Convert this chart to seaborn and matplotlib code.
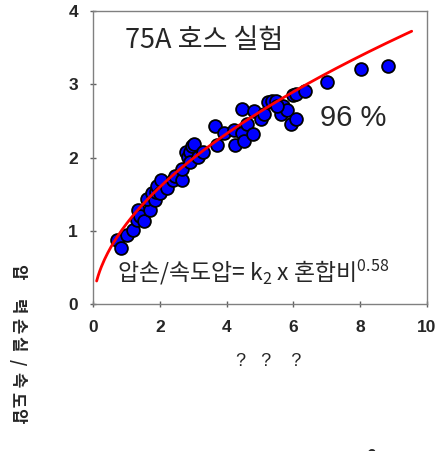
import numpy as np
import pandas as pd
import seaborn as sns
from matplotlib import pyplot as plt

# measured points (mixing ratio vs pressure loss / velocity pressure)
mix_ratio = [0.70, 0.82, 1.00, 1.18, 1.30, 1.33, 1.40, 1.53, 1.70, 1.60,
             1.75, 1.85, 1.88, 1.90, 2.02, 2.00, 2.20, 2.40, 2.45, 2.65,
             2.67, 2.77, 2.85, 2.90, 2.95, 3.03, 2.90, 3.15, 3.30, 3.65,
             3.70, 3.93, 4.23, 4.25, 4.45, 4.47, 4.53, 4.60, 4.80, 4.83,
             5.02, 5.12, 5.25, 5.35, 5.48, 5.62, 5.70, 5.80, 5.92, 6.07,
             6.00, 6.07, 6.35, 7.02, 8.02, 8.83, 5.50]
loss_ratio = [0.88, 0.77, 0.94, 1.01, 1.15, 1.28, 1.20, 1.14, 1.29, 1.44,
              1.52, 1.42, 1.53, 1.61, 1.70, 1.51, 1.59, 1.70, 1.75, 1.70,
              1.85, 2.07, 2.01, 2.07, 2.15, 2.18, 1.94, 2.01, 2.08, 2.43,
              2.17, 2.33, 2.38, 2.17, 2.66, 2.33, 2.22, 2.46, 2.32, 2.63,
              2.53, 2.59, 2.76, 2.77, 2.77, 2.59, 2.70, 2.65, 2.46, 2.52,
              2.85, 2.86, 2.90, 3.03, 3.20, 3.25, 2.70]

# fitted power curve
fit_k = 1.10
fit_exp = 0.54
fit_range = (0.1, 9.55)

x_ticks = [0, 2, 4, 6, 8, 10]
y_ticks = [0, 1, 2, 3, 4]

# y label is drawn char by char (spacing in the original is uneven)
ylabel_chars = ["압", "력", "손", "실", "/", "속", "도", "압"]
ylabel_rows = [271.5, 306.5, 326, 344, 362.5, 380, 400, 416]

sns.set_theme(style="white")
plt.rcParams['font.family'] = ['Noto Sans CJK KR', 'DejaVu Sans']

W, H = 440, 451
fig = plt.figure(figsize=(W / 100, H / 100), dpi=100)
ax = fig.add_axes([93.3 / W, 1 - 304.3 / H, 333.4 / W, 293.6 / H])

df = pd.DataFrame({"mix": mix_ratio, "loss": loss_ratio})
sns.scatterplot(data=df, x="mix", y="loss", ax=ax, s=85, color="#0000FF",
                edgecolor="black", linewidth=1.3, zorder=3)

xs = np.linspace(fit_range[0], fit_range[1], 200)
sns.lineplot(x=xs, y=fit_k * xs ** fit_exp, ax=ax, color="#FF0000",
             linewidth=2.0, zorder=4)

ax.set_xlim(0, 10)
ax.set_ylim(0, 4)
ax.set_xticks(x_ticks)
ax.set_yticks(y_ticks)
ax.set_xticklabels([str(t) for t in x_ticks])
ax.set_yticklabels([str(t) for t in y_ticks])
for lab in ax.get_xticklabels() + ax.get_yticklabels():
    lab.set_fontfamily("Liberation Sans")
    lab.set_fontweight("bold")
    lab.set_fontsize(12.5)
ax.tick_params(axis="both", direction="inout", length=4, width=1, color="#606060",
               left=True, bottom=True)
ax.tick_params(axis="x", pad=9)
ax.tick_params(axis="y", pad=9)
for sp in ax.spines.values():
    sp.set_color("#808080")
    sp.set_linewidth(1.0)

ax.set_xlabel("")
ax.set_ylabel("")

ax.text(0.95, 3.6, "75A 호스 실험", fontsize=19.5, va="center", ha="left")
ax.text(6.8, 2.54, "96 %", fontsize=21, va="center", ha="left",
        family="Liberation Sans")
ax.text(0.70, 0.43, "압손/속도압= $\\mathregular{k_2}$ x 혼합비$^{\\mathregular{0.58}}$",
        fontsize=16.5, va="center", ha="left")

fig.text(269 / W, 1 - 362 / H, "?   ?    ?", fontsize=13, ha="center", va="center",
         family="Liberation Sans")
for ch, row in zip(ylabel_chars, ylabel_rows):
    fig.text(17 / W, 1 - row / H, ch, fontsize=12, fontweight="bold",
             rotation=270, ha="center", va="center")
fig.text(372 / W, -0.012, "2", fontsize=11, fontweight="bold",
         ha="center", va="center")

fig.savefig("out.png", dpi=100)
